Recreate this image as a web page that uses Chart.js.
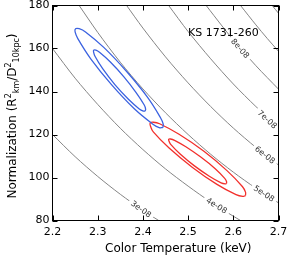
<!DOCTYPE html>
<html>
<head>
<meta charset="utf-8">
<script src="https://cdn.jsdelivr.net/npm/chart.js@4.4.1/dist/chart.umd.min.js"></script>
<style>
  html, body { margin: 0; padding: 0; background: #fff; }
  #wrap { width: 287px; height: 259px; }
</style>
</head>
<body>
<div id="wrap"><canvas id="chart" width="287" height="259"></canvas></div>
<script>
// axis ticks
const xTicks = [2.2, 2.3, 2.4, 2.5, 2.6, 2.7];
const yTicks = [80, 100, 120, 140, 160, 180];

// constant-flux lines, [kT, norm]
const flux3 = [[2.20,120.0],[2.25,109.7],[2.30,100.5],[2.35,92.2],[2.40,84.7],[2.435,80.0]];
const flux4 = [[2.20,160.0],[2.25,146.2],[2.30,134.0],[2.35,122.9],[2.40,113.0],[2.45,104.0],[2.50,96.0],[2.55,88.6],[2.60,82.0],[2.616,80.0]];
const flux5 = [[2.259,180.0],[2.30,167.5],[2.35,153.6],[2.40,141.2],[2.45,130.1],[2.50,120.0],[2.55,110.8],[2.60,102.5],[2.65,95.0],[2.70,88.2]];
const flux6 = [[2.364,180.0],[2.40,169.5],[2.45,156.1],[2.50,144.0],[2.55,133.0],[2.60,123.0],[2.65,114.0],[2.70,105.8]];
const flux7 = [[2.457,180.0],[2.50,167.9],[2.55,155.2],[2.60,143.5],[2.65,133.0],[2.70,123.4]];
const flux8 = [[2.540,180.0],[2.575,170.5],[2.60,164.0],[2.65,152.0],[2.70,141.1]];
const flux9 = [[2.616,180.0],[2.65,171.0],[2.675,164.7],[2.70,158.7]];
const flux10 = [[2.686,180.0],[2.70,176.4]];

// labels sitting on the grey lines
const fluxNames = ["3e-08", "4e-08", "5e-08", "6e-08", "7e-08", "8e-08"];
const fluxLabelAt = [[2.396,85.3],[2.563,86.9],[2.668,92.5],[2.670,110.5],[2.675,127.0],[2.615,160.0]];

// confidence contours
const blueOuter = [[2.444,123.2],[2.445,124.8],[2.439,127.8],[2.410,137.4],[2.364,149.3],[2.314,160.4],[2.273,167.7],[2.259,169.2],[2.251,169.2],[2.250,167.7],[2.256,164.6],[2.285,155.1],[2.331,143.1],[2.381,132.0],[2.423,124.7],[2.436,123.2],[2.444,123.2]];
const blueInner = [[2.405,130.9],[2.406,131.8],[2.403,133.7],[2.385,139.5],[2.358,146.8],[2.328,153.7],[2.304,158.2],[2.296,159.2],[2.291,159.2],[2.291,158.3],[2.294,156.4],[2.311,150.6],[2.338,143.2],[2.368,136.4],[2.392,131.9],[2.401,130.9],[2.405,130.9]];
const redOuter = [[2.627,91.6],[2.627,93.2],[2.620,95.8],[2.586,103.2],[2.535,112.2],[2.480,120.1],[2.437,125.0],[2.423,125.7],[2.416,125.3],[2.417,123.8],[2.423,121.2],[2.458,113.7],[2.509,104.8],[2.563,96.9],[2.606,92.0],[2.621,91.2],[2.627,91.6]];
const redInner = [[2.585,97.2],[2.585,98.1],[2.581,99.6],[2.560,104.1],[2.528,109.5],[2.495,114.3],[2.470,117.3],[2.461,117.9],[2.457,117.7],[2.458,116.8],[2.462,115.3],[2.483,110.8],[2.514,105.4],[2.547,100.6],[2.573,97.5],[2.582,97.0],[2.585,97.2]];

const sourceName = "KS 1731-260";

const fluxCurves = [flux3, flux4, flux5, flux6, flux7, flux8, flux9, flux10];
const FONT = '"DejaVu Sans", sans-serif';

function line(pts, color, width, tension) {
    return {
        data: pts.map(p => ({ x: p[0], y: p[1] })),
        showLine: true,
        borderColor: color,
        borderWidth: width,
        pointRadius: 0,
        tension: tension,
        fill: false
    };
}

// labels on the grey lines, with a gap cut in the line
const curveLabels = {
    id: "curveLabels",
    afterDatasetsDraw(chart) {
        const { ctx, scales: { x, y } } = chart;
        ctx.save();
        ctx.font = "8px " + FONT;
        ctx.textAlign = "center";
        ctx.textBaseline = "middle";
        fluxNames.forEach((txt, i) => {
            const pts = fluxCurves[i];
            const [t, n] = fluxLabelAt[i];
            let k = 0;
            while (k < pts.length - 2 && pts[k + 1][0] < t) k++;
            const dx = x.getPixelForValue(pts[k + 1][0]) - x.getPixelForValue(pts[k][0]);
            const dy = y.getPixelForValue(pts[k + 1][1]) - y.getPixelForValue(pts[k][1]);
            ctx.save();
            ctx.translate(x.getPixelForValue(t), y.getPixelForValue(n));
            ctx.rotate(Math.atan2(dy, dx));
            const w = ctx.measureText(txt).width;
            ctx.fillStyle = "#fff";
            ctx.fillRect(-w / 2 - 3, -4, w + 6, 8);
            ctx.fillStyle = "#333";
            ctx.fillText(txt, 0, 0.5);
            ctx.restore();
        });
        // source name
        ctx.font = "11px " + FONT;
        ctx.textAlign = "left";
        ctx.fillStyle = "#000";
        ctx.fillText(sourceName, x.getPixelForValue(2.5), y.getPixelForValue(167));
        ctx.restore();
    }
};

// box, inward ticks and axis titles
const frame = {
    id: "frame",
    afterDraw(chart) {
        const { ctx, chartArea: a, scales: { x, y } } = chart;
        ctx.save();
        ctx.strokeStyle = "#000";
        ctx.lineWidth = 1;
        ctx.strokeRect(a.left, a.top, a.right - a.left, a.bottom - a.top);
        ctx.beginPath();
        xTicks.forEach(v => {
            const p = Math.round(x.getPixelForValue(v)) + 0.5;
            ctx.moveTo(p, a.bottom); ctx.lineTo(p, a.bottom - 5);
            ctx.moveTo(p, a.top); ctx.lineTo(p, a.top + 5);
        });
        yTicks.forEach(v => {
            const p = Math.round(y.getPixelForValue(v)) + 0.5;
            ctx.moveTo(a.left, p); ctx.lineTo(a.left + 5, p);
            ctx.moveTo(a.right, p); ctx.lineTo(a.right - 5, p);
        });
        ctx.stroke();

        ctx.fillStyle = "#000";
        ctx.textBaseline = "middle";
        ctx.textAlign = "left";
        ctx.font = "12px " + FONT;
        ctx.fillText("Color Temperature (keV)", 105, 249);

        // y title with super/subscripts
        const parts = [["Normalization (R", 0], ["2", -1], ["km", 1], ["/D", 0], ["2", -1], ["10kpc", 1], [")", 0]];
        const big = "12px " + FONT, small = "8px " + FONT;
        ctx.translate(13, (a.top + a.bottom) / 2 + 3);
        ctx.rotate(-Math.PI / 2);
        let total = 0;
        parts.forEach(p => { ctx.font = p[1] ? small : big; total += ctx.measureText(p[0]).width; });
        let pos = -total / 2;
        parts.forEach(p => {
            ctx.font = p[1] ? small : big;
            ctx.fillText(p[0], pos, p[1] < 0 ? -4.5 : p[1] > 0 ? 3.5 : 0);
            pos += ctx.measureText(p[0]).width;
        });
        ctx.restore();
    }
};

const blue = "#3b62e0";
const red = "#f2302c";
const grey = "#858585";

const datasets = [
    line(blueOuter, blue, 1.3, 0.4),
    line(blueInner, blue, 1.3, 0.4),
    line(redOuter, red, 1.3, 0.4),
    line(redInner, red, 1.3, 0.4)
].concat(fluxCurves.map(c => line(c, grey, 1, 0.3)));

new Chart(document.getElementById("chart"), {
    type: "scatter",
    data: { datasets: datasets },
    options: {
        responsive: false,
        animation: false,
        devicePixelRatio: 1,
        events: [],
        layout: { padding: { top: 5.5, right: 8.5, left: 0, bottom: 0 } },
        plugins: { legend: { display: false }, tooltip: { enabled: false } },
        scales: {
            x: {
                type: "linear",
                min: 2.2,
                max: 2.7,
                grid: { display: false, drawTicks: false },
                border: { display: false },
                afterBuildTicks: s => { s.ticks = xTicks.map(v => ({ value: v })); },
                afterFit: s => { s.height = 38.5; s.paddingLeft = 0; s.paddingRight = 0; },
                ticks: {
                    padding: 5,
                    maxRotation: 0,
                    color: "#000",
                    font: { family: "DejaVu Sans", size: 11 },
                    callback: v => v.toFixed(1)
                }
            },
            y: {
                type: "linear",
                min: 80,
                max: 180,
                grid: { display: false, drawTicks: false },
                border: { display: false },
                afterBuildTicks: s => { s.ticks = yTicks.map(v => ({ value: v })); },
                afterFit: s => { s.width = 52.5; s.paddingTop = 0; s.paddingBottom = 0; },
                ticks: {
                    padding: 3,
                    color: "#000",
                    font: { family: "DejaVu Sans", size: 11 },
                    callback: v => v
                }
            }
        }
    },
    plugins: [curveLabels, frame]
});
</script>
</body>
</html>
